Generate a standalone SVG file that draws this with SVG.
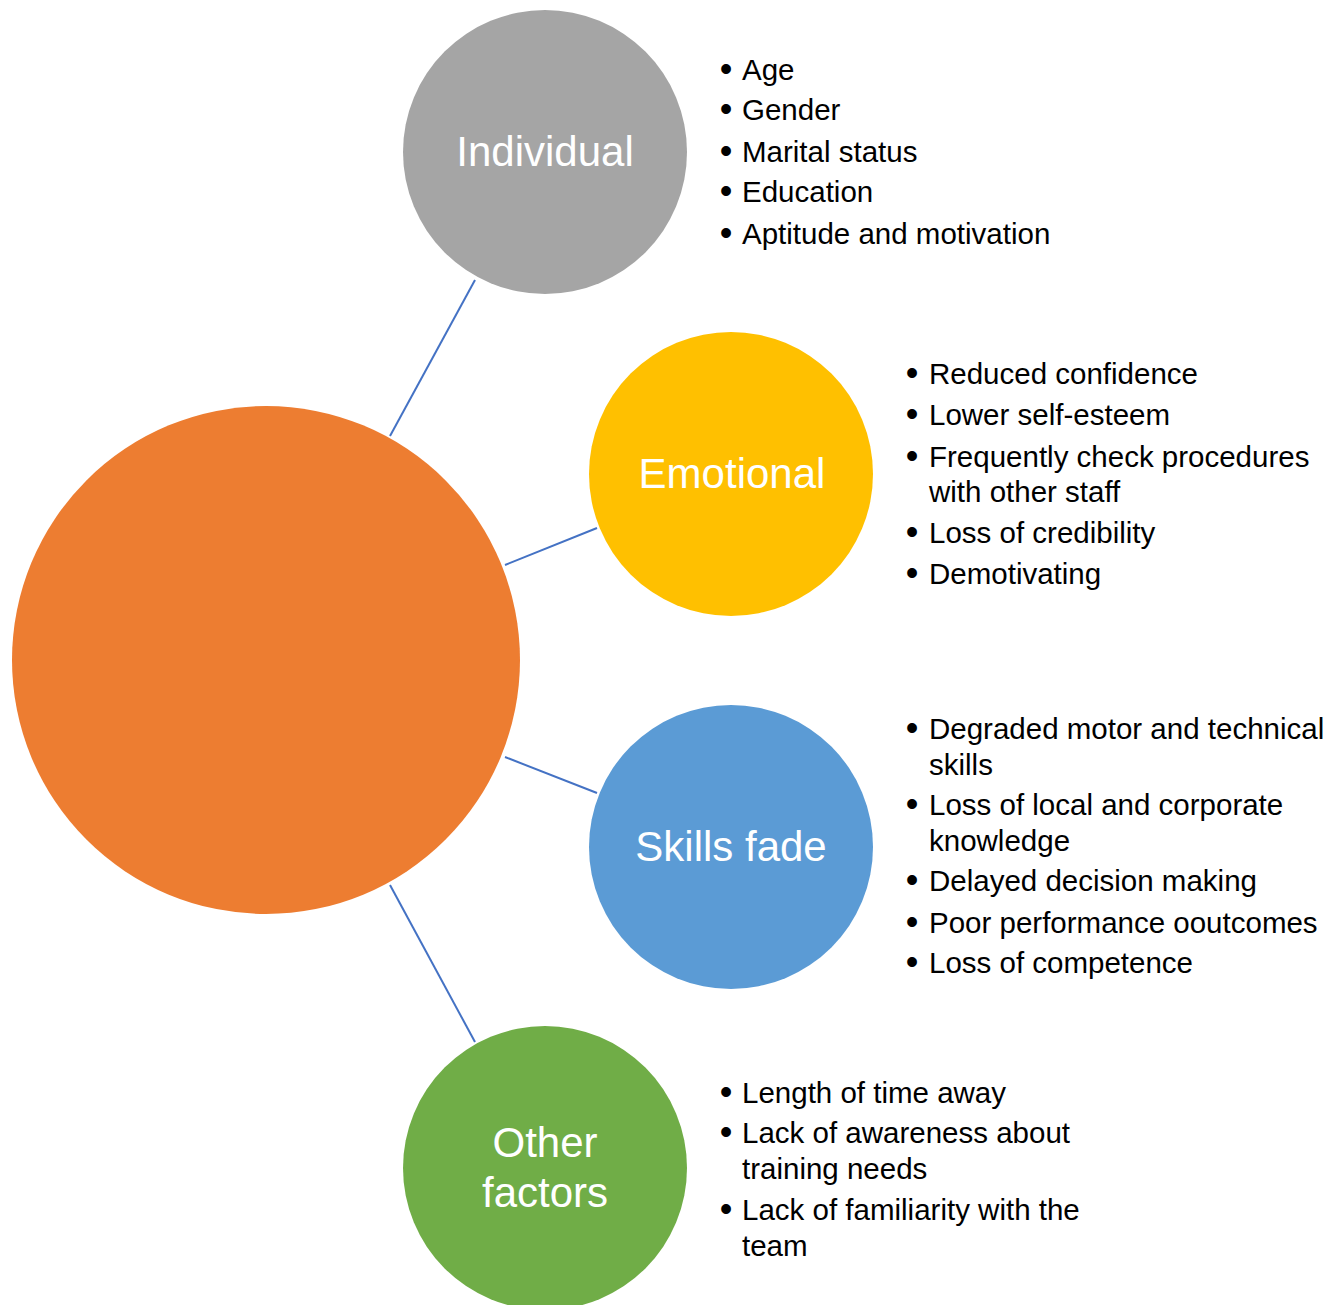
<svg xmlns="http://www.w3.org/2000/svg" width="1338" height="1305" viewBox="0 0 1338 1305">
<style>
.lbl{font-family:"Liberation Sans",Arial,sans-serif;font-size:42px;fill:#FFFFFF;text-anchor:middle}
.b{font-family:"Liberation Sans",Arial,sans-serif;font-size:29.5px;fill:#000000}
.dot{font-family:"Liberation Sans",Arial,sans-serif;font-size:36px;fill:#000000;text-anchor:middle}
.conn{stroke:#4472C4;stroke-width:2;fill:none}
</style>
<rect width="1338" height="1305" fill="#FFFFFF"/>
<g id="connectors">
<line class="conn" x1="390" y1="436" x2="475" y2="280"/>
<line class="conn" x1="505" y1="565" x2="597" y2="528"/>
<line class="conn" x1="505" y1="757" x2="597" y2="793"/>
<line class="conn" x1="390" y1="885" x2="475" y2="1042"/>
</g>
<g id="center">
<circle cx="266" cy="660" r="254" fill="#ED7D31"/>
</g>
<g id="individual">
<circle cx="545" cy="152" r="142" fill="#A5A5A5"/>
<text class="lbl" x="545" y="166">Individual</text>
</g>
<g id="individual-list">
<text class="dot" x="726" y="81">•</text><text class="b" x="742" y="80">Age</text>
<text class="dot" x="726" y="121">•</text><text class="b" x="742" y="120">Gender</text>
<text class="dot" x="726" y="163">•</text><text class="b" x="742" y="162">Marital status</text>
<text class="dot" x="726" y="203">•</text><text class="b" x="742" y="202">Education</text>
<text class="dot" x="726" y="245">•</text><text class="b" x="742" y="244">Aptitude and motivation</text>
</g>
<g id="emotional">
<circle cx="731" cy="474" r="142" fill="#FFC000"/>
<text class="lbl" x="732" y="488">Emotional</text>
</g>
<g id="emotional-list">
<text class="dot" x="912" y="385">•</text><text class="b" x="929" y="384">Reduced confidence</text>
<text class="dot" x="912" y="426">•</text><text class="b" x="929" y="425">Lower self-esteem</text>
<text class="dot" x="912" y="468">•</text><text class="b" x="929" y="467">Frequently check procedures</text>
<text class="b" x="929" y="502">with other staff</text>
<text class="dot" x="912" y="544">•</text><text class="b" x="929" y="543">Loss of credibility</text>
<text class="dot" x="912" y="585">•</text><text class="b" x="929" y="584">Demotivating</text>
</g>
<g id="skills-fade">
<circle cx="731" cy="847" r="142" fill="#5B9BD5"/>
<text class="lbl" x="731" y="861">Skills fade</text>
</g>
<g id="skills-list">
<text class="dot" x="912" y="740">•</text><text class="b" x="929" y="739">Degraded motor and technical</text>
<text class="b" x="929" y="775">skills</text>
<text class="dot" x="912" y="816">•</text><text class="b" x="929" y="815">Loss of local and corporate</text>
<text class="b" x="929" y="851">knowledge</text>
<text class="dot" x="912" y="892">•</text><text class="b" x="929" y="891">Delayed decision making</text>
<text class="dot" x="912" y="934">•</text><text class="b" x="929" y="933">Poor performance ooutcomes</text>
<text class="dot" x="912" y="974">•</text><text class="b" x="929" y="973">Loss of competence</text>
</g>
<g id="other-factors">
<circle cx="545" cy="1168" r="142" fill="#70AD47"/>
<text class="lbl" x="545" y="1157">Other</text>
<text class="lbl" x="545" y="1207">factors</text>
</g>
<g id="other-list">
<text class="dot" x="726" y="1104">•</text><text class="b" x="742" y="1103">Length of time away</text>
<text class="dot" x="726" y="1144">•</text><text class="b" x="742" y="1143">Lack of awareness about</text>
<text class="b" x="742" y="1179">training needs</text>
<text class="dot" x="726" y="1221">•</text><text class="b" x="742" y="1220">Lack of familiarity with the</text>
<text class="b" x="742" y="1256">team</text>
</g>
</svg>
